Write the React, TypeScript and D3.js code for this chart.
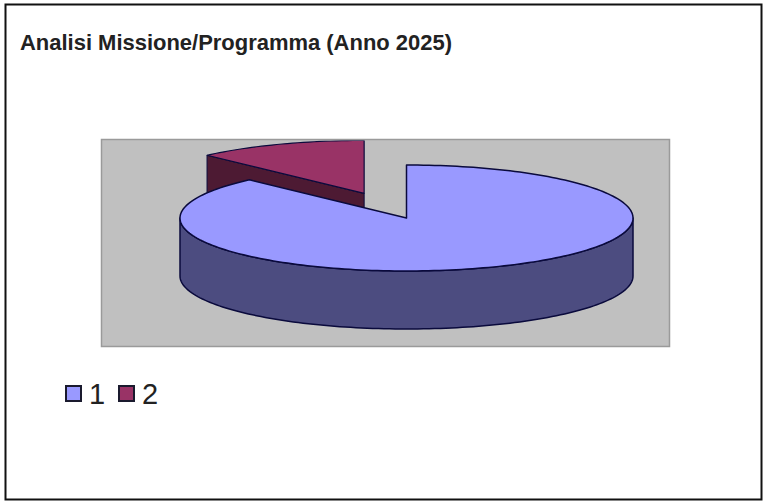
import * as d3 from "d3";

const WIDTH = 764;
const HEIGHT = 502;

const TITLE = "Analisi Missione/Programma (Anno 2025)";
const LABELS = ["1", "2"];
const VALUES = [87.8, 12.2];
const TOP_COLORS = ["#9999ff", "#993366"];
const SIDE_COLORS = ["#4c4c80", "#4d1a33"];
const LEGEND_X = [66, 119];

const PLOT = { x: 101.5, y: 139.5, w: 568, h: 207 };
const CENTER = { x: 406.5, y: 218 };
const RX = 226.5;
const RY = 53;
const DEPTH = 58;
const EXPLODE = 0.5;
const STROKE = "#0a0a3c";

const x = d3.scaleLinear().domain([-1, 1]).range([CENTER.x - RX, CENTER.x + RX]);
const y = d3.scaleLinear().domain([-1, 1]).range([CENTER.y - RY, CENTER.y + RY]);

type Pt = [number, number];

// Angles run clockwise from 12 o'clock, a flat circle squashed to an ellipse.
function rim(a0: number, a1: number, ox = 0, oy = 0, drop = 0): Pt[] {
  const n = Math.max(2, Math.ceil(Math.abs(a1 - a0) * 40));
  return d3.range(n + 1).map((i) => {
    const a = a0 + ((a1 - a0) * i) / n;
    return [x(ox + Math.sin(a)), y(oy - Math.cos(a)) + drop] as Pt;
  });
}

const line = d3.line<Pt>();
const slices = d3.pie<number>().sort(null).startAngle(0).endAngle(2 * Math.PI)(VALUES);

export default function App() {
  const big = slices[0];
  const small = slices[1];

  // big slice: top surface and the front wall (only the part below the equator shows)
  const bigTop = line([[x(0), y(0)], ...rim(big.startAngle, big.endAngle)]) + "Z";
  const frontTop = rim(Math.PI / 2, (3 * Math.PI) / 2);
  const frontBottom = rim((3 * Math.PI) / 2, Math.PI / 2, 0, 0, DEPTH);
  const bigSide = line([...frontTop, ...frontBottom]) + "Z";

  // small slice is pulled out along its mid angle
  const mid = (small.startAngle + small.endAngle) / 2;
  const ox = EXPLODE * Math.sin(mid);
  const oy = -EXPLODE * Math.cos(mid);
  const apex: Pt = [x(ox), y(oy)];
  const rimSmall = rim(small.startAngle, small.endAngle, ox, oy);
  const smallTop = line([apex, ...rimSmall]) + "Z";
  const left = rimSmall[0];
  const smallFace =
    line([left, apex, [apex[0], apex[1] + DEPTH], [left[0], left[1] + DEPTH]]) + "Z";

  return (
    <svg
      width={WIDTH}
      height={HEIGHT}
      viewBox={`0 0 ${WIDTH} ${HEIGHT}`}
      style={{ position: "absolute", left: 0, top: 0, background: "#fff" }}
      fontFamily="'Liberation Sans', Arial, sans-serif"
    >
      <defs>
        <clipPath id="plot-clip">
          <rect x={PLOT.x} y={PLOT.y + 1} width={PLOT.w} height={PLOT.h} />
        </clipPath>
      </defs>
      <rect x={5.5} y={4.5} width={756} height={495} fill="#fff" stroke="#111" strokeWidth={2} />
      <text x={20} y={50} fontSize={21.8} fontWeight={700} fill="#222" textLength={432} lengthAdjust="spacingAndGlyphs">
        {TITLE}
      </text>
      <rect x={PLOT.x} y={PLOT.y} width={PLOT.w} height={PLOT.h} fill="#c0c0c0" stroke="#9a9a9a" strokeWidth={1.5} />
      <g clipPath="url(#plot-clip)" strokeLinejoin="round">
        <path d={smallFace} fill={SIDE_COLORS[1]} stroke={STROKE} strokeWidth={1} />
        <path d={smallTop} fill={TOP_COLORS[1]} stroke={STROKE} strokeWidth={1.2} />
        <path d={bigSide} fill={SIDE_COLORS[0]} stroke={STROKE} strokeWidth={1.5} />
        <path d={bigTop} fill={TOP_COLORS[0]} stroke={STROKE} strokeWidth={1.5} />
      </g>
      {LABELS.map((label, i) => (
        <g key={label}>
          <rect x={LEGEND_X[i]} y={386} width={15} height={15} fill={TOP_COLORS[i]} stroke="#1a1a2e" strokeWidth={2} />
          <text x={LEGEND_X[i] + 23} y={404} fontSize={29} fill="#222">
            {label}
          </text>
        </g>
      ))}
    </svg>
  );
}
